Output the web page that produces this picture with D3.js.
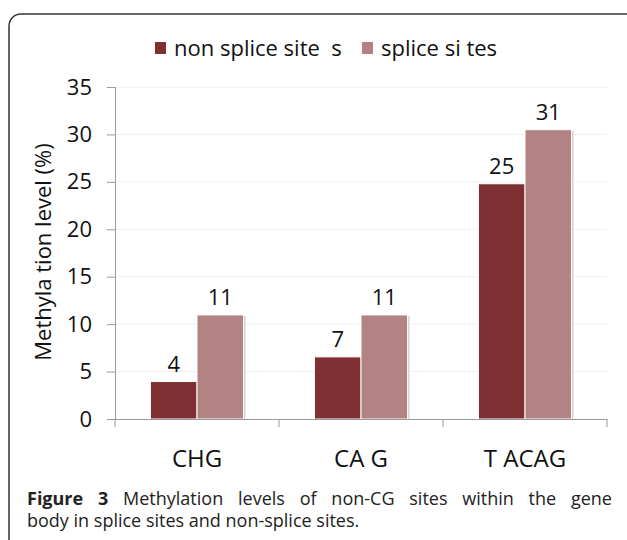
<!DOCTYPE html>
<html>
<head>
<meta charset="utf-8">
<script src="https://cdn.jsdelivr.net/npm/d3@7"></script>
<style>
  body { margin: 0; background: #fff; }
  text { font-family: "Open Sans", sans-serif; white-space: pre; }
</style>
</head>
<body>
<svg id="drawing" width="627" height="540"></svg>
<script>
// chart data
var categories = ["CHG", "CA G", "T ACAG"];
var seriesNames = ["non splice site  s", "splice si tes"];
var nonSplice = [3.95, 6.55, 24.8];
var splice = [10.97, 10.97, 30.5];
var nonSpliceLabels = ["4", "7", "25"];
var spliceLabels = ["11", "11", "31"];
var yTicks = [0, 5, 10, 15, 20, 25, 30, 35];
var colors = ["#7f3032", "#b38283"];

var svg = d3.select("#drawing");

// outer frame, right and bottom edges fall outside the picture
svg.append("rect")
  .attr("x", 9).attr("y", 14)
  .attr("width", 660).attr("height", 580)
  .attr("rx", 12)
  .attr("fill", "none")
  .attr("stroke", "#333")
  .attr("stroke-width", 1.5);

var plotLeft = 115, plotRight = 607, plotTop = 87, plotBottom = 419;

var y = d3.scaleLinear().domain([0, 35]).range([plotBottom, plotTop]);
var x0 = d3.scaleBand().domain(categories).range([plotLeft, plotRight]);
var x1 = d3.scaleBand().domain([0, 1]).range([0, x0.bandwidth()]).paddingOuter(0.76);

// gridlines
svg.append("g").selectAll("line")
  .data(yTicks.slice(1))
  .enter().append("line")
  .attr("x1", plotLeft).attr("x2", plotRight)
  .attr("y1", function(d){ return y(d); })
  .attr("y2", function(d){ return y(d); })
  .attr("stroke", "#efefef")
  .attr("stroke-width", 1);

var bars = [];
categories.forEach(function(c, i){
  bars.push({ cat: c, s: 0, v: nonSplice[i], label: nonSpliceLabels[i] });
  bars.push({ cat: c, s: 1, v: splice[i], label: spliceLabels[i] });
});

var barG = svg.append("g");

// soft shadow on the right edge
barG.selectAll("rect.shadow")
  .data(bars)
  .enter().append("rect")
  .attr("class", "shadow")
  .attr("x", function(d){ return x0(d.cat) + x1(d.s) + 2; })
  .attr("y", function(d){ return y(d.v) + 1; })
  .attr("width", x1.bandwidth())
  .attr("height", function(d){ return plotBottom - y(d.v) - 1; })
  .attr("fill", "#d4d4d4");

barG.selectAll("rect.bar")
  .data(bars)
  .enter().append("rect")
  .attr("class", "bar")
  .attr("x", function(d){ return x0(d.cat) + x1(d.s); })
  .attr("y", function(d){ return y(d.v); })
  .attr("width", x1.bandwidth())
  .attr("height", function(d){ return plotBottom - y(d.v); })
  .attr("fill", function(d){ return colors[d.s]; })
  .attr("stroke", "#fff")
  .attr("stroke-width", 1);

barG.selectAll("text")
  .data(bars)
  .enter().append("text")
  .attr("x", function(d){ return x0(d.cat) + x1(d.s) + x1.bandwidth() / 2; })
  .attr("y", function(d){ return y(d.v) - 10; })
  .attr("text-anchor", "middle")
  .attr("font-size", 22)
  .attr("fill", "#111")
  .text(function(d){ return d.label; });

// axes
var yAxis = svg.append("g")
  .attr("transform", "translate(" + plotLeft + ",0)")
  .call(d3.axisLeft(y).tickValues(yTicks).tickSize(8).tickPadding(15));

var xAxis = svg.append("g")
  .attr("transform", "translate(0," + plotBottom + ")")
  .call(d3.axisBottom(x0).tickSize(0).tickPadding(31));

// category boundary ticks
svg.append("g").selectAll("line")
  .data(categories)
  .enter().append("line")
  .attr("x1", function(d){ return x0(d) + x0.bandwidth(); })
  .attr("x2", function(d){ return x0(d) + x0.bandwidth(); })
  .attr("y1", plotBottom).attr("y2", plotBottom + 8)
  .attr("stroke", "#999");
svg.append("line")
  .attr("x1", plotLeft).attr("x2", plotLeft)
  .attr("y1", plotBottom).attr("y2", plotBottom + 8)
  .attr("stroke", "#999");

[yAxis, xAxis].forEach(function(a){
  a.selectAll("path, line").attr("stroke", "#999");
  a.selectAll("text")
    .attr("font-family", "Open Sans, sans-serif")
    .attr("font-size", 22)
    .attr("fill", "#111");
});
xAxis.selectAll("text").attr("font-size", 24);
xAxis.select(".domain").attr("d", "M" + plotLeft + ",0.5H" + plotRight);

// y axis title
svg.append("text")
  .attr("transform", "translate(51,252) rotate(-90)")
  .attr("text-anchor", "middle")
  .attr("font-size", 22)
  .attr("fill", "#111")
  .text("Methyla tion level (%)");

// legend
var legendX = [155, 362];
var legend = svg.append("g").selectAll("g")
  .data(seriesNames)
  .enter().append("g")
  .attr("transform", function(d, i){ return "translate(" + legendX[i] + ",0)"; });
legend.append("rect")
  .attr("x", 0).attr("y", 42)
  .attr("width", 11).attr("height", 12)
  .attr("fill", function(d, i){ return colors[i]; });
legend.append("text")
  .attr("x", 19).attr("y", 56)
  .attr("font-size", 22)
  .attr("fill", "#111")
  .text(function(d){ return d; });

// caption, first line justified by adjusting word gaps
var cap1 = svg.append("text")
  .attr("x", 27).attr("y", 505)
  .attr("font-size", 18)
  .attr("fill", "#222");
cap1.append("tspan").attr("font-weight", "bold").text("Figure 3");
cap1.append("tspan").text(" Methylation levels of non-CG sites within the gene");
var natural = cap1.node().getComputedTextLength();
var gaps = 9;
cap1.attr("word-spacing", (585 - natural) / gaps);

svg.append("text")
  .attr("x", 27).attr("y", 527)
  .attr("font-size", 18)
  .attr("fill", "#222")
  .text("body in splice sites and non-splice sites.");
</script>
</body>
</html>
